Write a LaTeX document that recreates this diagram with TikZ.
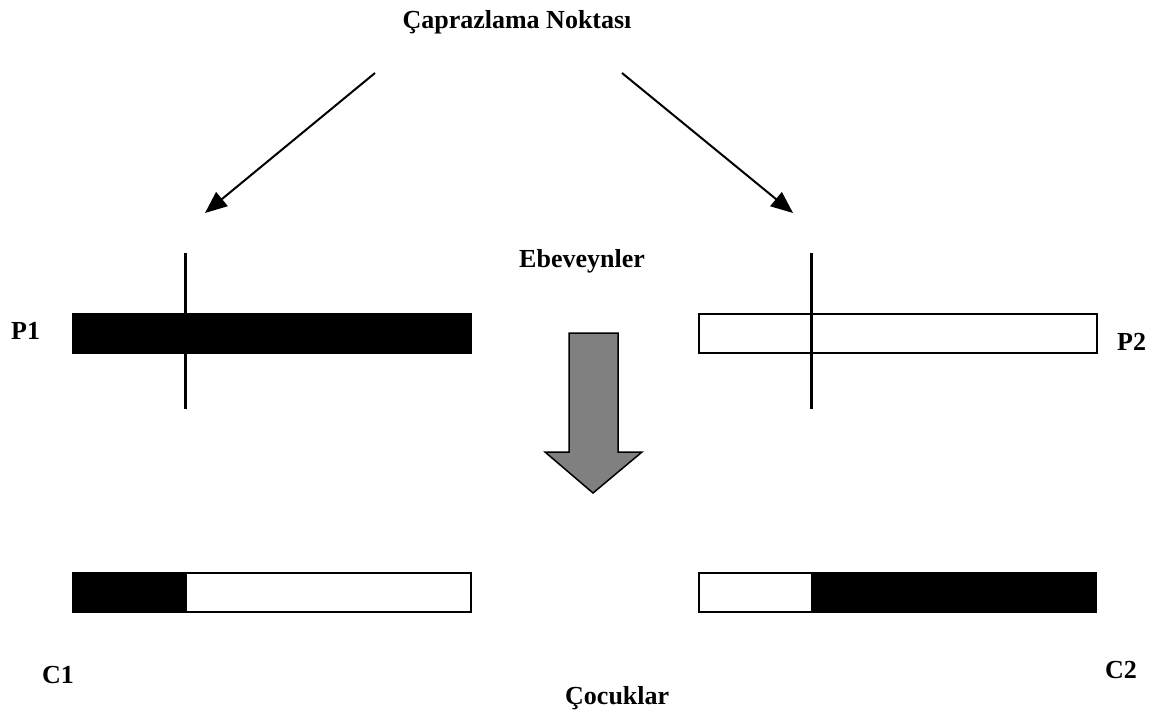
\documentclass[tikz,border=0pt]{standalone}
\usepackage{fontspec}
\setmainfont{Liberation Serif}
\usetikzlibrary{arrows.meta}
\definecolor{arrowgray}{HTML}{808080}
\begin{document}
\begin{tikzpicture}[x=1pt,y=-1pt,
  lbl/.style={font=\fontsize{26}{30}\selectfont\bfseries, inner sep=0pt},
  gene/.style={rectangle, inner sep=0pt, minimum height=41pt, line width=2pt},
  framed/.style={gene, draw=black, fill=white, minimum height=39pt},
  cut/.style={line width=3pt},
  pointer/.style={line width=2pt, -{Triangle[length=22pt,width=18pt]}}]
  \useasboundingbox (0,0) rectangle (1158,715);

  % labels
  \node[lbl, anchor=base] (title) at (517,28) {Çaprazlama Noktası};
  \node[lbl, anchor=base west] (parents) at (519,267) {Ebeveynler};
  \node[lbl, anchor=base west] (children) at (565,704) {Çocuklar};
  \node[lbl, anchor=base west] (p1) at (11,339) {P1};
  \node[lbl, anchor=base west] (p2) at (1117,350) {P2};
  \node[lbl, anchor=base west] (c1) at (42,683) {C1};
  \node[lbl, anchor=base west] (c2) at (1105,678) {C2};

  % parent chromosomes
  \node[gene, fill=black, minimum width=400pt, anchor=north west] (bar1) at (71,312) {};
  \node[framed, minimum width=398pt, anchor=north west] (bar2) at (698,313) {};

  % crossover cut lines
  \coordinate (cut1top) at (185,253);
  \coordinate (cut1bot) at (185,409);
  \coordinate (cut2top) at (811,253);
  \coordinate (cut2bot) at (811,409);
  \draw[cut] (cut1top) -- (cut1bot);
  \draw[cut] (cut2top) -- (cut2bot);

  % arrows pointing at the crossover points
  \coordinate (s1) at (375,73);
  \coordinate (t1) at (205,213);
  \coordinate (s2) at (622,73);
  \coordinate (t2) at (793,213);
  \draw[pointer] (s1) -- (t1);
  \draw[pointer] (s2) -- (t2);

  % block arrow
  \draw[line width=1.5pt, fill=arrowgray, line join=miter]
    (569,333) -- (618,333) -- (618,452) -- (642,452) -- (593,493)
    -- (545,452) -- (569,452) -- cycle;

  % offspring chromosomes
  \node[gene, fill=black, minimum width=114pt, anchor=north west] (c1a) at (71,571) {};
  \node[framed, minimum width=285pt, anchor=north west] (c1b) at (185,572) {};
  \node[framed, minimum width=113pt, anchor=north west] (c2a) at (698,572) {};
  \node[gene, fill=black, minimum width=285pt, anchor=north west] (c2b) at (811,571) {};
\end{tikzpicture}
\end{document}
